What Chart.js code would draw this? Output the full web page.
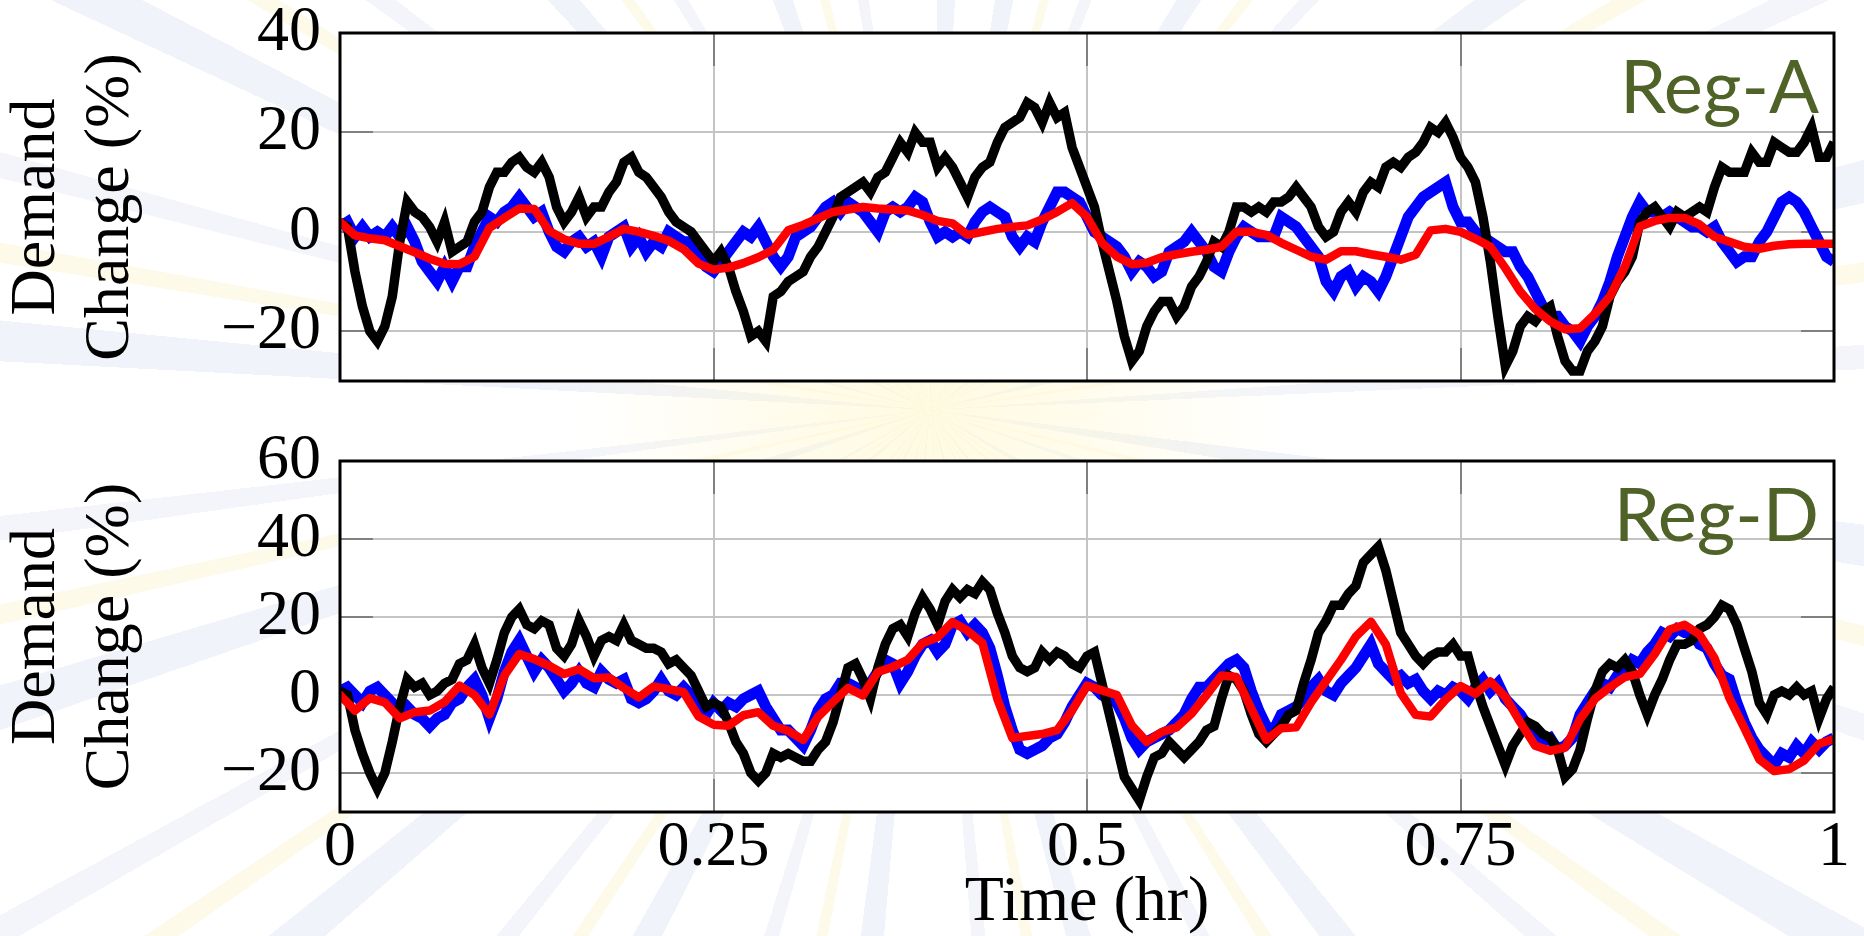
<!DOCTYPE html>
<html>
<head>
<meta charset="utf-8">
<script src="https://cdn.jsdelivr.net/npm/chart.js@4.4.0/dist/chart.umd.min.js"></script>
<style>
  html, body { margin: 0; padding: 0; }
  body { width: 1864px; height: 936px; overflow: hidden; position: relative; background: #fff; }
  .rays {
    position: absolute; inset: 0;
    background:
      radial-gradient(circle at 930px 410px, rgba(255,248,210,0.7) 0px, rgba(255,255,255,0) 360px),
      repeating-conic-gradient(from 5deg at 930px 410px,
        #ffffff 0deg 4deg, #f0f3fa 4deg 6.5deg, #ffffff 6.5deg 10deg,
        #fefae9 10deg 11.2deg, #ffffff 11.2deg 15deg, #f3f5fb 15deg 16.5deg,
        #ffffff 16.5deg 22deg);
  }
  .box { position: absolute; left: 0; width: 1864px; }
</style>
</head>
<body>
<div class="rays"></div>
<div class="box" style="top:0;height:400px"><canvas id="regA"></canvas></div>
<div class="box" style="top:420px;height:516px"><canvas id="regD"></canvas></div>
<script>
// sampling grid of the traces (hours)
const FINE_STEP = 0.005;   // black and blue traces
const COARSE_STEP = 0.01;  // red trace

const X_TICKS = [0, 0.25, 0.5, 0.75, 1];
const X_TICK_LABELS = ['0', '0.25', '0.5', '0.75', '1'];
const Y_TICKS_A = [-20, 0, 20, 40];
const Y_TICKS_D = [-20, 0, 20, 40, 60];

// Reg-A panel
const REGA_BLACK = [
  2, 1, -8, -15, -20, -22, -19, -13, -2, 6, 4, 3, 1, -2, 2, -4, -3, -2, 2, 4,
  9, 12, 12, 14, 15, 13, 12, 14, 11, 5, 2, 4, 7, 3, 5, 5, 8, 10, 14, 15,
  12, 11, 9, 7, 4, 2, 1, 0, -2, -4, -6, -4, -7, -12, -16, -21, -20, -22, -13, -12,
  -10, -9, -8, -5, -3, 0, 3, 7,
  8, 9, 10, 8, 11, 12, 15, 18, 16, 20, 18, 18, 13, 15, 13, 10, 7, 11, 13, 14,
  18, 21, 22, 23, 26, 25, 22, 26, 23, 24, 17, 13, 9, 5, -2, -8, -14, -21, -26, -24,
  -19, -16, -14, -14, -17, -15, -11, -9, -6, -2, -3, 0, 5, 5, 4, 5, 4, 6, 6, 7,
  9, 7, 5, 1, -1, 0,
  4, 6, 4, 8, 10, 9, 13, 14, 13, 15, 16, 18, 21, 20, 22, 19, 15, 13, 10, 3,
  -6, -17, -27, -24, -19, -17, -18, -16, -15, -21, -26, -28, -28, -24, -22, -19, -13, -10, -8, -5,
  2, 4, 5, 3, 1, 4, 3, 4, 5, 4, 9, 13, 12, 12, 12, 16, 14, 14, 18, 17,
  16, 16, 18, 21, 15, 15, 18
];
const REGA_BLUE = [
  1, 2, -1, 1, -1, 0, -1, 1, -1, 1, -2, -6, -8, -10, -7, -10, -7, -7, -3, 0,
  3, 2, 4, 5, 7, 5, 3, 4, 0, -3, -4, -2, -1, -3, -2, -5, -1, 0, 1, -3,
  -1, -4, -2, -3, 0, -1, -2, -2, -5, -7, -8, -6, -4, -2, 0, -1, 1, -2, -5, -7,
  -5, -1, 0, 1, 3, 5, 6, 4,
  6, 5, 4, 2, 0, 4, 5, 4, 5, 7, 6, 2, -1, 0, -1, 0, -1, 2, 4, 5,
  4, 3, -1, -3, -1, -2, 2, 5, 8, 8, 7, 6, 3, 0, -1, -2, -3, -5, -8, -6,
  -7, -9, -8, -4, -3, -2, 0, -2, -4, -7, -8, -4, -1, 1, 0, -1, -1, -1, 3, 2,
  1, -1, -3, -5, -10, -12,
  -9, -8, -11, -9, -10, -12, -9, -5, -1, 3, 5, 7, 8, 9, 10, 5, 2, 2, 0, -1,
  -2, -3, -4, -4, -7, -9, -12, -15, -17, -17, -19, -20, -22, -19, -17, -14, -10, -5, -1, 3,
  6, 4, 4, 3, 4, 3, 2, 1, 1, 0, 1, -2, -4, -6, -5, -5, -2, 0, 3, 6,
  7, 6, 4, 1, -2, -5, -6
];
const REGA_RED = [
  2, -0.7, -1.3, -1.7, -2.9, -4.1, -5.4, -6.4, -6.5, -5, 0.8, 2.8, 4.7, 4.6, 0.2, -1.5, -2.4, -2.4, -1, 0.6,
  0, -0.8, -1.8, -3.5, -6.4, -7.6, -7.2, -6.3, -5.1, -3.6, 0.3, 1.4, 2.7, 4,
  4.5, 5, 4.7, 4.5, 4.3, 3.4, 2.2, 1.7, -0.6, 0, 0.6, 1, 1.3, 2.5, 4, 5.8,
  3, -2.2, -5, -6.5, -6.2, -5.1, -4.5, -4, -3.6, -3, 0, 0, -0.6, -2.2, -3.6, -5, -5.6,
  -3.9, -3.9, -4.5, -5, -5.6, -4.6, 0.3, 0.6, 0, -1.4, -3, -7.3, -12, -15.5, -18, -19.6, -19.4, -16.5, -13, -7,
  1.1, 2.2, 2.8, 2.8, 1.5, -1, -2, -3, -3.4, -2.8, -2.5, -2.4, -2.4, -2.4
];

// Reg-D panel
const REGD_BLACK = [
  1, 0, -9, -15, -20, -24, -20, -12, -3, 4, 2, 3, 0, 1, 3, 4, 8, 9, 13, 7,
  3, 9, 16, 20, 22, 18, 17, 19, 18, 12, 10, 13, 19, 15, 10, 14, 15, 14, 18, 14,
  13, 12, 12, 11, 8, 9, 7, 5, 1, -3, -2, -3, -7, -12, -15, -20, -22, -20, -15, -16,
  -15, -16, -17, -17, -14, -12, -7, 0,
  7, 8, 4, -1, 7, 13, 17, 18, 15, 21, 25, 22, 18, 24, 27, 25, 27, 26, 29, 27,
  21, 16, 10, 7, 6, 7, 11, 9, 11, 10, 8, 7, 10, 11, 3, -5, -13, -21, -24, -27,
  -21, -16, -15, -12, -14, -16, -14, -12, -9, -8, -1, 5, 4, 1, -5, -10, -12, -10, -8, -5,
  -4, 3, 9, 16, 19, 23,
  23, 26, 28, 34, 36, 38, 32, 24, 16, 13, 10, 8, 10, 11, 11, 13, 10, 10, 3, -3,
  -8, -13, -18, -13, -10, -7, -8, -10, -11, -14, -21, -19, -14, -6, 1, 6, 8, 7, 9, 6,
  0, -5, 0, 4, 9, 13, 13, 14, 17, 18, 20, 23, 22, 18, 12, 6, -2, -5, 0, 1,
  0, 2, 0, 1, -6, -1, 2
];
const REGD_BLUE = [
  1, 2, 0, -2, 1, 2, 0, -2, -5, -3, -5, -6, -8, -6, -5, -2, -1, 2, 4, 0,
  -6, -1, 6, 11, 14, 10, 6, 9, 7, 4, 1, 3, 6, 3, 2, 6, 4, 3, 4, -1,
  -2, -1, 1, 4, 1, 0, 2, 0, -2, -5, -2, -4, -2, -3, -1, 0, 1, -3, -6, -9,
  -9, -11, -13, -9, -4, -1, 0, 3,
  3, 2, 1, 3, 6, 9, 8, 3, 6, 10, 13, 14, 11, 13, 18, 19, 16, 18, 16, 12,
  5, -3, -9, -14, -15, -14, -13, -11, -10, -7, -3, 0, 3, 2, 0, -1, -2, -6, -11, -14,
  -12, -11, -10, -9, -7, -5, -1, 2, 2, 4, 6, 8, 9, 7, 1, -4, -8, -9, -5, -4,
  -3, -1, 2, 4, 1, 0,
  3, 5, 7, 10, 13, 8, 6, 4, 5, 3, 4, 1, -1, 1, 0, 2, 1, -1, 2, 4,
  1, 3, -1, -3, -5, -8, -10, -12, -11, -14, -13, -11, -5, -2, 1, 3, 2, 5, 6, 9,
  8, 11, 13, 16, 15, 17, 16, 16, 13, 12, 8, 5, 4, -2, -7, -11, -14, -16, -18, -15,
  -16, -13, -15, -12, -14, -12, -11
];
const REGD_RED = [
  0, -4, -0.8, -1.9, -6, -4.4, -4, -1.8, 2.4, 0, -5, 5, 10.5, 9.2, 7.5, 5.4, 6.6, 4.3, 4.5, 1.8,
  -0.6, 2.2, 1.5, 0.7, -5.5, -7.6, -7.9, -5.2, -4.4, -7.9, -9.2, -11.5, -5.6, -1.8,
  1.8, -0.1, 5.9, 7.2, 9, 13.3, 14.8, 18.7, 16.5, 13.3, -1, -11, -10.5, -10, -9, -4,
  2.4, 1.2, 0, -7.8, -12, -9.5, -8.3, -4.8, 0, 5, 4.6, -3.5, -11.5, -8.5, -8.3, -1.9, 3.6,
  9, 15, 18.8, 13, 0.5, -5.1, -5.5, -1.2, 2.3, 0.3, 3.5, -0.5, -7, -13, -14.3, -13.5, -6.2, -1, 2, 4.6,
  5.4, 10.5, 16.8, 18, 15.5, 9.5, -0.8, -8.5, -16.5, -19.5, -19, -16.8, -12.5, -11.3
];

const SERIF = '"Liberation Serif", "Times New Roman", serif';

function toPoints(values, step) {
  return values.map((v, i) => ({ x: +(i * step).toFixed(4), y: v }));
}

function fmtTick(v) {
  return v < 0 ? '\u2212' + Math.abs(v) : String(v);
}

// white plot background, inner tick marks, frame and the panel tag
const panelDeco = {
  id: 'panelDeco',
  beforeDraw(chart) {
    const { ctx, chartArea: a } = chart;
    ctx.save();
    ctx.fillStyle = '#fff';
    ctx.fillRect(a.left, a.top, a.right - a.left, a.bottom - a.top);
    ctx.restore();
  },
  beforeDatasetsDraw(chart) {
    const { ctx, chartArea: a, scales } = chart;
    const len = 33;
    ctx.save();
    ctx.strokeStyle = '#808080';
    ctx.lineWidth = 2;
    ctx.beginPath();
    scales.y.ticks.forEach(t => {
      if (t.value <= scales.y.min || t.value >= scales.y.max) return;
      const py = Math.round(scales.y.getPixelForValue(t.value));
      ctx.moveTo(a.left, py); ctx.lineTo(a.left + len, py);
      ctx.moveTo(a.right - len, py); ctx.lineTo(a.right, py);
    });
    scales.x.ticks.forEach(t => {
      if (t.value <= scales.x.min || t.value >= scales.x.max) return;
      const px = Math.round(scales.x.getPixelForValue(t.value));
      ctx.moveTo(px, a.top); ctx.lineTo(px, a.top + len);
      ctx.moveTo(px, a.bottom - len); ctx.lineTo(px, a.bottom);
    });
    ctx.stroke();
    ctx.restore();
  },
  afterDraw(chart, args, opts) {
    const { ctx, chartArea: a } = chart;
    ctx.save();
    ctx.strokeStyle = '#000';
    ctx.lineWidth = 3;
    ctx.strokeRect(a.left, a.top, a.right - a.left, a.bottom - a.top);
    ctx.font = '74px Lato, "Open Sans", sans-serif';
    ctx.fillStyle = '#4f6228';
    ctx.textAlign = 'right';
    ctx.textBaseline = 'alphabetic';
    ctx.fillText(opts.tag, a.right - 15, a.top + 80);
    ctx.restore();
  }
};

function makeChart(id, cfg) {
  const showX = cfg.showX;
  return new Chart(document.getElementById(id), {
    type: 'line',
    data: {
      datasets: [
        { label: 'Smoothed', data: toPoints(cfg.red, COARSE_STEP), borderColor: '#ff0000',
          borderWidth: 8.5, borderJoinStyle: 'round', borderCapStyle: 'round', order: 1 },
        { label: 'Signal', data: toPoints(cfg.black, FINE_STEP), borderColor: '#000000',
          borderWidth: 9.5, order: 2 },
        { label: 'Response', data: toPoints(cfg.blue, FINE_STEP), borderColor: '#0000ff',
          borderWidth: 11, order: 3 }
      ]
    },
    options: {
      animation: false,
      responsive: true,
      maintainAspectRatio: false,
      datasets: { line: { pointRadius: 0, tension: 0, fill: false, clip: 0 } },
      layout: { padding: cfg.padding },
      plugins: {
        legend: { display: false },
        tooltip: { enabled: false },
        panelDeco: { tag: cfg.tag }
      },
      scales: {
        x: {
          type: 'linear',
          min: 0, max: 1,
          afterBuildTicks: s => { s.ticks = X_TICKS.map(v => ({ value: v })); },
          afterFit: s => { s.height = cfg.xHeight; s.paddingLeft = 0; s.paddingRight = 0; },
          grid: { color: '#c4c4c4', lineWidth: 2, drawTicks: false },
          border: { display: false },
          ticks: {
            display: showX,
            padding: 4,
            color: '#000',
            font: { family: SERIF, size: 64, lineHeight: 1 },
            maxRotation: 0,
            callback: (v) => X_TICK_LABELS[X_TICKS.indexOf(v)]
          },
          title: {
            display: showX,
            text: 'Time (hr)',
            color: '#000',
            font: { family: SERIF, size: 64, lineHeight: 1 },
            padding: { top: 0, bottom: 1 }
          }
        },
        y: {
          min: cfg.yMin, max: cfg.yMax,
          afterBuildTicks: s => { s.ticks = cfg.yTicks.map(v => ({ value: v })); },
          afterFit: s => { s.width = 340; s.paddingTop = 0; s.paddingBottom = 0; },
          grid: { color: '#c4c4c4', lineWidth: 2, drawTicks: false },
          border: { display: false },
          ticks: {
            padding: 19,
            color: '#000',
            font: { family: SERIF, size: 64, lineHeight: 1 },
            callback: fmtTick
          },
          title: {
            display: true,
            text: ['Demand', 'Change (%)'],
            color: '#000',
            font: { family: SERIF, size: 64, lineHeight: 1.156 },
            padding: { top: 0, bottom: 0 }
          }
        }
      }
    },
    plugins: [panelDeco]
  });
}

function build() {
  makeChart('regA', {
    tag: 'Reg-A', red: REGA_RED, black: REGA_BLACK, blue: REGA_BLUE,
    yMin: -30, yMax: 40, yTicks: Y_TICKS_A,
    padding: { left: 0, top: 33, right: 30, bottom: 19 },
    xHeight: 0, showX: false
  });
  makeChart('regD', {
    tag: 'Reg-D', red: REGD_RED, black: REGD_BLACK, blue: REGD_BLUE,
    yMin: -30, yMax: 60, yTicks: Y_TICKS_D,
    padding: { left: 0, top: 41, right: 30, bottom: 0 },
    xHeight: 124, showX: true
  });
}

Promise.all([
  document.fonts.load('64px "Liberation Serif"'),
  document.fonts.load('74px Lato')
]).then(build, build);
</script>
</body>
</html>
